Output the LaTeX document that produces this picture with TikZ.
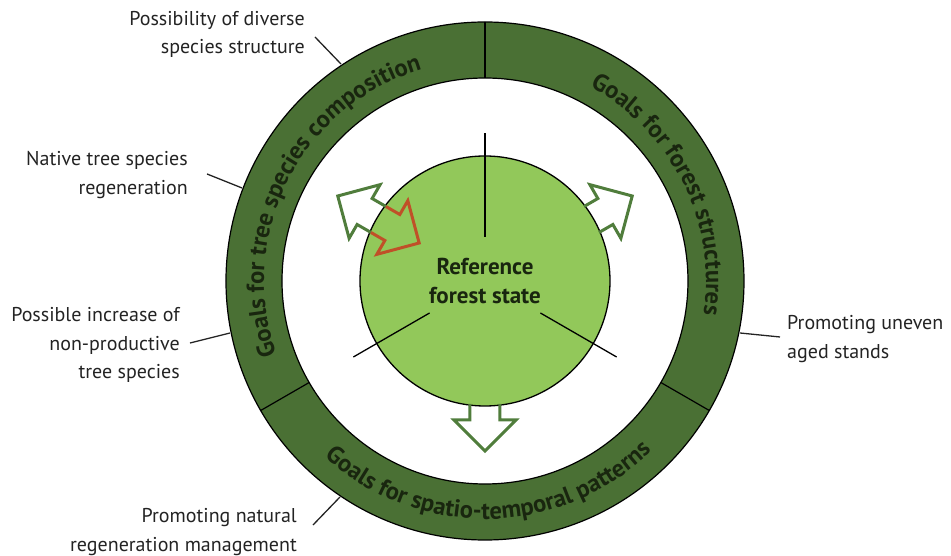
\documentclass[tikz,border=0pt]{standalone}
\usepackage{fontspec}
\setmainfont{PT Sans}
\usetikzlibrary{decorations.text}
\definecolor{ringgreen}{RGB}{74,112,52}
\definecolor{corefill}{RGB}{146,200,90}
\definecolor{arrowgreen}{RGB}{80,125,60}
\definecolor{arrowred}{RGB}{192,80,40}
\definecolor{notegray}{RGB}{35,35,35}
\definecolor{ringink}{RGB}{25,38,15}
\newcommand{\ringfont}{\bfseries\fontsize{24.5}{24.5}\selectfont}

\begin{document}
\begin{tikzpicture}[x=1pt,y=1pt]

\tikzstyle{note}=[font=\fontsize{20}{28.5}\selectfont, text=notegray, inner sep=0pt]
\tikzstyle{leader}=[line width=1.3pt, draw=notegray]
\tikzstyle{outarrow}=[line width=3pt, draw=arrowgreen, line join=miter]
\tikzstyle{inarrow}=[line width=3pt, draw=arrowred, line join=miter]
\tikzstyle{ringtext}=[decorate, decoration={text along path, text align=center, text color=ringink}]
\tikzstyle{core}=[circle, draw, line width=1.3pt, fill=corefill, minimum size=250pt, align=center, text=ringink, font=\bfseries\fontsize{23}{29}\selectfont]

\useasboundingbox (-485,-275) rectangle (466,281);

% ring of goals
\fill[ringgreen, even odd rule] (0,0) circle (259pt) circle (203pt);
\draw[line width=1.2pt] (0,0) circle (259pt) (0,0) circle (203pt);
\foreach \ang in {90,210,330}
  \draw[line width=1.2pt] (\ang:203pt) -- (\ang:259pt);

\path[ringtext, decoration={text={|\ringfont|Goals for tree species composition}}] (213:221pt) arc[start angle=213, end angle=93, radius=221pt];
\path[ringtext, decoration={text={|\ringfont|Goals for forest structures}}] (86.5:221pt) arc[start angle=86.5, end angle=-33.5, radius=221pt];
\path[ringtext, decoration={text={|\ringfont|Goals for spatio-temporal patterns}}] (211:238pt) arc[start angle=211, end angle=331, radius=238pt];

% reference state
\node (state) [core] at (0,0) {Reference\\forest state};
\draw[line width=1.3pt] (90:44pt) -- (90:148pt);
\draw[line width=1.3pt] (210:64pt) -- (210:152pt);
\draw[line width=1.3pt] (330:64pt) -- (330:152pt);

\foreach \ang in {30,150,270}
  \draw[outarrow, rotate=\ang] (123,15) -- (139,15) -- (139,31) -- (170,0) -- (139,-31) -- (139,-15) -- (123,-15);
\draw[inarrow, rotate=150] (123,15) -- (107,15) -- (107,31) -- (76,0) -- (107,-31) -- (107,-15) -- (123,-15);

% notes
\node (diverse) [note, anchor=east, align=right] at (-180,246.5) {Possibility of diverse\\species structure};
\node (native) [note, anchor=east, align=right] at (-297,106) {Native tree species\\regeneration};
\node (nonprod) [note, anchor=east, align=right] at (-305,-64) {Possible increase of\\non-productive\\tree species};
\node (natural) [note, anchor=east, align=right] at (-188,-251) {Promoting natural\\regeneration management};
\node (uneven) [note, anchor=west, align=left] at (302,-58) {Promoting uneven\\aged stands};

\coordinate (d1) at (-170,244);  \coordinate (d2) at (-144,217);
\coordinate (n1) at (-278,107);  \coordinate (n2) at (-243,93);
\coordinate (p1) at (-295,-62);  \coordinate (p2) at (-255,-52);
\coordinate (m1) at (-172,-244); \coordinate (m2) at (-145,-216);
\coordinate (u1) at (295,-56);   \coordinate (u2) at (255,-52);

\draw[leader] (d1) -- (d2);
\draw[leader] (n1) -- (n2);
\draw[leader] (p1) -- (p2);
\draw[leader] (m1) -- (m2);
\draw[leader] (u1) -- (u2);

\end{tikzpicture}
\end{document}
